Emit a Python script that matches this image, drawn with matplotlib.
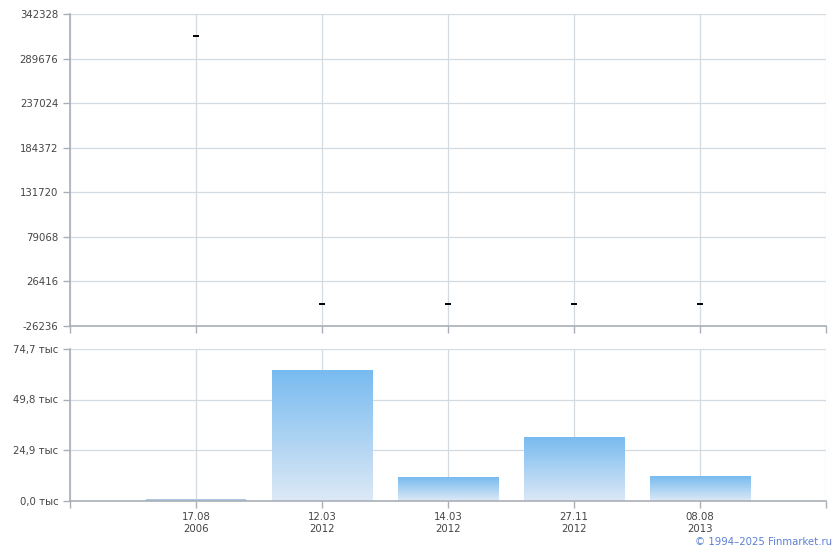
import numpy as np
import matplotlib
matplotlib.use("Agg")
import matplotlib.pyplot as plt

dates = ["17.08\n2006", "12.03\n2012", "14.03\n2012", "27.11\n2012", "08.08\n2013"]
prices = [316000, 300, 300, 300, 300]
volumes = [500, 64200, 11700, 31500, 12100]
price_ticks = [-26236, 26416, 79068, 131720, 184372, 237024, 289676, 342328]
vol_ticks = [0, 24900, 49800, 74700]
vol_labels = ["0,0 тыс", "24,9 тыс", "49,8 тыс", "74,7 тыс"]

plt.rcParams['font.family'] = ['DejaVu Sans']
fig = plt.figure(figsize=(8.4, 5.5), dpi=100)

grid_c = "#d3dae0"
spine_c = "#a9afb7"
text_c = "#444444"
fs = 7.3

x = np.arange(len(dates))
xticks = np.arange(-1, len(dates) + 1)

ax1 = fig.add_axes([70/840, 1-326/550, 756/840, 312/550])
ax2 = fig.add_axes([70/840, 1-500.5/550, 756/840, 151.5/550])

for ax in (ax1, ax2):
    ax.set_xlim(-1, len(dates))
    ax.set_xticks(xticks)
    ax.grid(True, color=grid_c, linewidth=0.9)
    ax.set_axisbelow(True)
    for s in ("top", "right"):
        ax.spines[s].set_visible(False)
    for s in ("left", "bottom"):
        ax.spines[s].set_color(spine_c)
        ax.spines[s].set_linewidth(1.2)
    ax.tick_params(axis="both", colors=spine_c, labelcolor=text_c, labelsize=fs,
                   length=5, width=1, direction="out")

# top panel
ax1.set_ylim(price_ticks[0], price_ticks[-1])
ax1.set_yticks(price_ticks)
ax1.set_yticklabels([f"{v}" for v in price_ticks])
ax1.set_xticklabels([])
ax1.plot(x, prices, linestyle="none", marker="_", markersize=5, mew=1.4, color="black")

# bottom panel
ax2.set_ylim(vol_ticks[0], vol_ticks[-1])
ax2.set_yticks(vol_ticks)
ax2.set_yticklabels(vol_labels)
ax2.set_xticklabels([""] + dates + [""])

top_c = np.array([120, 187, 240]) / 255
bot_c = np.array([221, 233, 246]) / 255
t = np.linspace(0, 1, 256)[:, None]
grad = (top_c[None, :] * (1 - t) + bot_c[None, :] * t)[:, None, :]
w = 0.8
for xi, v in zip(x, volumes):
    if v < 2000:
        ax2.bar(xi, v, width=w, color="#a9c8e6", zorder=2)
    else:
        ax2.imshow(grad, extent=[xi - w/2, xi + w/2, 0, v], aspect="auto",
                   origin="upper", zorder=2, interpolation="bilinear")
ax2.set_xlim(-1, len(dates))
ax2.set_ylim(vol_ticks[0], vol_ticks[-1])

fig.text(832/840, 1-542/550, "© 1994–2025 Finmarket.ru", ha="right", va="center",
         fontsize=7.3, color="#5b7fd6")

fig.savefig("out.png", dpi=100)
